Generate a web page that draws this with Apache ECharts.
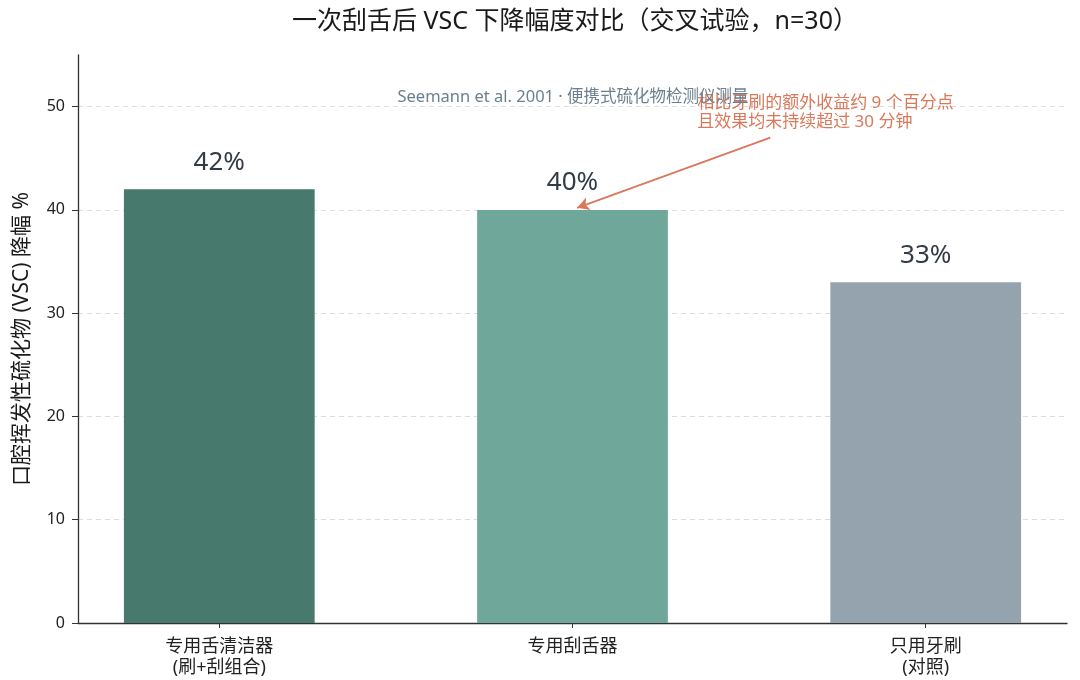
<!DOCTYPE html>
<html><head><meta charset="utf-8">
<script src="https://cdn.jsdelivr.net/npm/echarts@6/dist/echarts.min.js"></script>
<style>html,body{margin:0;padding:0;background:#fff}#c{width:1080px;height:680px}</style>
</head><body><div id="c"></div>
<script>
const categories = ['专用舌清洁器\n(刷+刮组合)', '专用刮舌器', '只用牙刷\n(对照)'];
const reductions = [42, 40, 33];
const barColors = ['#477a6c', '#6fa89a', '#95a3ae'];
const categoryPositions = [0, 1, 2];
const titleText = '一次刮舌后 VSC 下降幅度对比（交叉试验，n=30）';
const subText = 'Seemann et al. 2001 · 便携式硫化物检测仪测量';
const noteText = '相比牙刷的额外收益约 9 个百分点\n且效果均未持续超过 30 分钟';
const arrowFrom = [1.56, 47.0];
const arrowTo = [1.013, 40.2];
const noteAt = [1.353, 49.4];

const FONT = '"Noto Sans", "Noto Sans CJK SC", sans-serif';
const chart = echarts.init(document.getElementById('c'), null, {renderer: 'canvas'});
chart.setOption({
  backgroundColor: '#fff',
  textStyle: {fontFamily: FONT},
  title: [
    {text: titleText, left: 570, top: 4, textAlign: 'center',
     textStyle: {fontSize: 25, fontWeight: 'normal', color: '#1a1a1a', fontFamily: FONT}},
    {text: subText, left: 568, top: 84, textAlign: 'center',
     textStyle: {fontSize: 16.5, fontWeight: 'normal', color: '#6b7f8f', fontFamily: FONT}}
  ],
  grid: {left: 78, right: 13, top: 55, bottom: 57},
  xAxis: {
    type: 'value', min: -0.4, max: 2.4,
    axisLine: {show: true, onZero: false, lineStyle: {color: '#333', width: 1.3}},
    axisTick: {show: true, customValues: categoryPositions, length: 5, lineStyle: {color: '#333'}},
    axisLabel: {customValues: categoryPositions, formatter: v => categories[Math.round(v)],
      fontSize: 18, color: '#222', lineHeight: 21, margin: 13, fontFamily: FONT},
    splitLine: {show: false}
  },
  yAxis: {
    type: 'value', min: 0, max: 55, interval: 10,
    name: '口腔挥发性硫化物 (VSC) 降幅 %', nameLocation: 'middle', nameGap: 45,
    nameTextStyle: {fontSize: 21, color: '#1a1a1a', fontFamily: FONT},
    axisLine: {show: true, onZero: false, lineStyle: {color: '#333', width: 1.3}},
    axisTick: {show: true, length: 6, lineStyle: {color: '#333'}},
    axisLabel: {fontSize: 16, color: '#222', showMaxLabel: false, margin: 13, fontFamily: FONT},
    splitLine: {show: true, showMaxLine: false, lineStyle: {color: '#dddddd', type: [5, 4], width: 1}}
  },
  series: [{
    type: 'bar',
    barWidth: '54%',
    data: reductions.map((v, i) => ({value: [categoryPositions[i], v], itemStyle: {color: barColors[i]}})),
    label: {show: true, position: 'top', distance: 14, fontSize: 26, color: '#333b45',
      formatter: p => p.value[1] + '%', fontFamily: FONT},
    markLine: {
      silent: true, symbol: ['none', 'arrow'], symbolSize: [10, 12],
      lineStyle: {color: '#d9785a', width: 1.8, type: 'solid'},
      label: {show: false},
      data: [[{coord: arrowFrom}, {coord: arrowTo}]]
    },
    markPoint: {
      silent: true, symbol: 'circle', symbolSize: 0,
      data: [{coord: noteAt, value: 0}],
      label: {show: true, position: 'right', distance: 0, formatter: noteText,
        align: 'left', verticalAlign: 'middle', fontSize: 17, lineHeight: 19,
        color: '#d9785a', fontFamily: FONT}
    }
  }]
});
</script></body></html>
